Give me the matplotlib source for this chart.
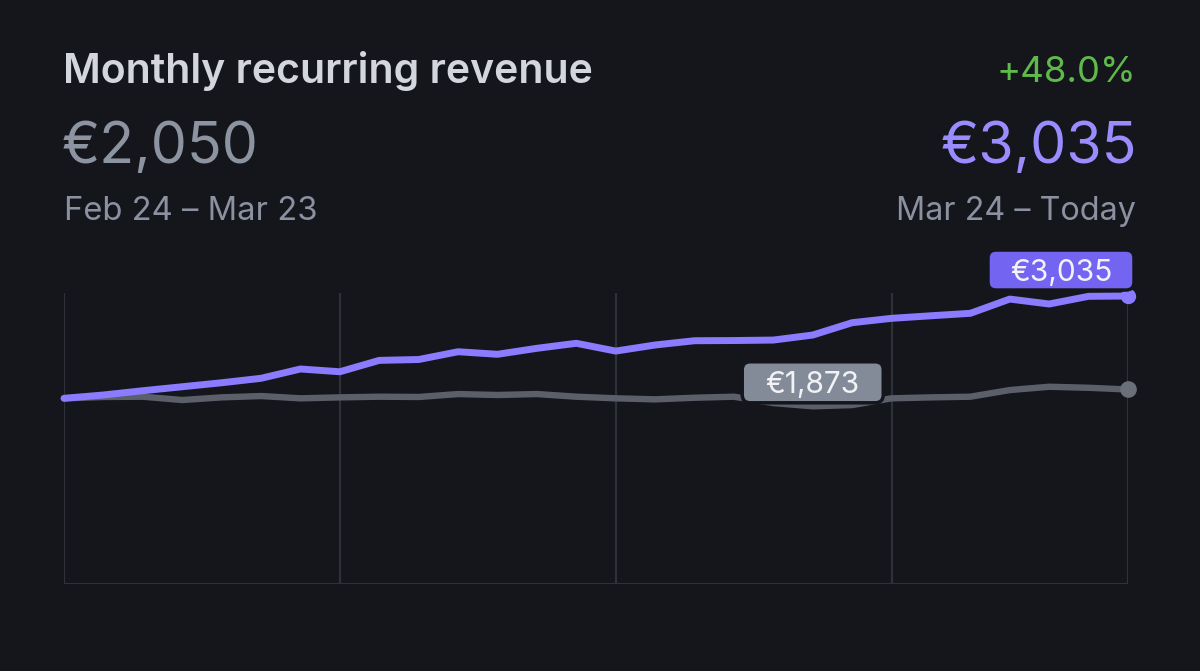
import numpy as np
import matplotlib.pyplot as plt
from matplotlib.patches import FancyBboxPatch
from matplotlib.transforms import IdentityTransform

# daily MRR values (EUR), 28 days each period
days = np.arange(28)
current = [1957, 1992, 2037, 2079, 2121, 2168, 2266, 2237, 2357, 2366,
           2448, 2421, 2484, 2537, 2455, 2519, 2564, 2566, 2571, 2624,
           2754, 2800, 2827, 2853, 3003, 2951, 3032, 3035]
previous = [1957, 1971, 1974, 1939, 1967, 1981, 1957, 1967, 1974, 1971,
            2002, 1992, 2002, 1974, 1957, 1946, 1963, 1974, 1907, 1873,
            1886, 1957, 1967, 1974, 2044, 2079, 2068, 2050]
week_ticks = [0, 7, 14, 21, 27]

title = "Monthly recurring revenue"
prev_total, prev_range = "€2,050", "Feb 24 – Mar 23"
curr_total, curr_range = "€3,035", "Mar 24 – Today"
change = "+48.0%"

bg = "#15161b"
purple = "#8a7bff"
grey_line = "#5b5f69"

plt.rcParams['font.family'] = ['Inter', 'DejaVu Sans']

W, H = 1200, 671
fig = plt.figure(figsize=(W / 100, H / 100), dpi=100, facecolor=bg)
ax = fig.add_axes([64 / W, (H - 584) / H, (1128 - 64) / W, (584 - 293) / H])
ax.set_facecolor(bg)
ax.set_xlim(0, 27)
ax.set_ylim(0, 3067)
for s in ax.spines.values():
    s.set_visible(False)
ax.set_xticks([])
ax.set_yticks([])

for t in week_ticks:
    ax.axvline(t, color="#2f313a", lw=1.6, zorder=1)
ax.axhline(0, color="#2f313a", lw=1.6, zorder=1)

ax.plot(days, previous, color=grey_line, lw=4.6, solid_joinstyle='round',
        solid_capstyle='round', zorder=2, clip_on=False)
ax.plot(days, current, color=purple, lw=5, solid_joinstyle='round',
        solid_capstyle='round', zorder=3, clip_on=False)
ax.plot(days[-1], previous[-1], 'o', ms=11, color="#6b6f79", zorder=4, clip_on=False)
ax.plot(days[-1], current[-1], 'o', ms=10, color=purple, zorder=4, clip_on=False)


def tooltip(x, y, label, fc, dx, dy, w, h):
    # box of w x h pixels, centred dx, dy pixels away from the data point
    px_, py_ = ax.transData.transform((x, y))
    cx, cy = px_ + dx, py_ + dy
    box = FancyBboxPatch((cx - w / 2, cy - h / 2), w, h,
                         boxstyle="round,pad=0,rounding_size=8",
                         fc=fc, ec=bg, lw=2.5, transform=IdentityTransform(),
                         zorder=6)
    fig.add_artist(box)
    fig.text(cx / W, cy / H, label, transform=fig.transFigure, ha='center',
             va='center_baseline', fontsize=21.5, color="#f2f3f6", zorder=7)


imin = int(np.argmin(previous))
tooltip(days[imin], previous[imin], f"€{previous[imin]:,}", "#848b98", 0, 24, 141, 41)
tooltip(days[-1], current[-1], curr_total, "#7464f2", -67, 26, 146, 40)


def px(x, y):
    return x / W, 1 - y / H


fig.text(*px(63, 83), title, fontsize=29.5, fontweight='semibold',
         color="#d3d6dc", va='baseline', ha='left')
fig.text(*px(62, 163), prev_total, fontsize=41.3, color="#8d94a1",
         va='baseline', ha='left')
fig.text(*px(64, 220), prev_range, fontsize=23.6, color="#8b91a0",
         va='baseline', ha='left')
fig.text(*px(1136, 82), change, fontsize=26.3, color="#5fb94b",
         va='baseline', ha='right')
fig.text(*px(1137, 163), curr_total, fontsize=41.3, color="#9a8cff",
         va='baseline', ha='right')
fig.text(*px(1136, 220), curr_range, fontsize=23.3, color="#8b91a0",
         va='baseline', ha='right')

fig.savefig("out.png", dpi=100, facecolor=bg)
